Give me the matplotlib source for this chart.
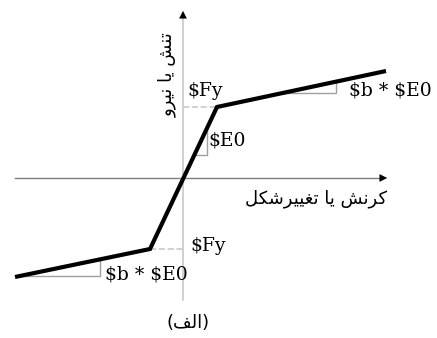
import numpy as np
import matplotlib
matplotlib.use("Agg")
import matplotlib.pyplot as plt

# hysteresis backbone
strain = [-168, -33, 34, 203]
stress = [-99, -71, 71, 107]

y_label = "تنش یا نیرو"
x_label = "کرنش یا تغییرشکل"
caption = "(الف)"

# arabic presentation forms: iso, fin, ini, med
FORMS = {
    'ا': ('\uFE8D', '\uFE8E'),
    'ر': ('\uFEAD', '\uFEAE'),
    'و': ('\uFEED', '\uFEEE'),
    'ت': ('\uFE95', '\uFE96', '\uFE97', '\uFE98'),
    'ن': ('\uFEE5', '\uFEE6', '\uFEE7', '\uFEE8'),
    'ش': ('\uFEB5', '\uFEB6', '\uFEB7', '\uFEB8'),
    'ی': ('\uFBFC', '\uFBFD', '\uFBFE', '\uFBFF'),
    'ک': ('\uFB8E', '\uFB8F', '\uFB90', '\uFB91'),
    'غ': ('\uFECD', '\uFECE', '\uFECF', '\uFED0'),
    'ل': ('\uFEDD', '\uFEDE', '\uFEDF', '\uFEE0'),
    'ف': ('\uFED1', '\uFED2', '\uFED3', '\uFED4'),
}


def shape(s):
    out = []
    for i, c in enumerate(s):
        if c not in FORMS:
            out.append(c)
            continue
        f = FORMS[c]
        prev = s[i - 1] if i > 0 else ''
        nxt = s[i + 1] if i + 1 < len(s) else ''
        jp = prev in FORMS and len(FORMS[prev]) == 4
        jn = len(f) == 4 and nxt in FORMS
        if jp and jn:
            out.append(f[3])
        elif jp:
            out.append(f[1])
        elif jn:
            out.append(f[2])
        else:
            out.append(f[0])
    vis = ''.join(out)[::-1]
    return vis.translate(str.maketrans('()', ')('))


fig = plt.figure(figsize=(4.37, 3.38), dpi=100)
ax = fig.add_axes([0, 0, 1, 1])
ax.set_xlim(-183, 254)
ax.set_ylim(-160, 178)
ax.axis('off')

# axes with arrows
ax.plot([-168, 198], [0, 0], color='#7f7f7f', lw=1)
ax.plot([0, 0], [-122, 162], color='#c8c8c8', lw=1.2)
ax.annotate('', xy=(207, 0), xytext=(195, 0),
            arrowprops=dict(arrowstyle='-|>', color='black', lw=0, mutation_scale=14))
ax.annotate('', xy=(0, 170), xytext=(0, 158),
            arrowprops=dict(arrowstyle='-|>', color='black', lw=0, mutation_scale=14))

# yield dashes
ax.plot([0, strain[2]], [stress[2], stress[2]], color='#c8c8c8', lw=1.2, ls='--')
ax.plot([strain[1], 0], [stress[1], stress[1]], color='#c8c8c8', lw=1.2, ls='--')

# slope triangles
tc = '#a0a0a0'
x1, x2 = 102, 153
y1 = np.interp(x1, strain, stress)
y2 = np.interp(x2, strain, stress)
ax.plot([x1, x2, x2], [y1, y1, y2], color=tc, lw=1)

ye = 23
xe = np.interp(ye, stress, strain)
xe2 = 24
ax.plot([xe, xe2, xe2], [ye, ye, np.interp(xe2, strain, stress)], color=tc, lw=1)

yl = -98
xl = np.interp(yl, stress, strain)
xl2 = -83
ax.plot([xl, xl2, xl2], [yl, yl, np.interp(xl2, strain, stress)], color=tc, lw=1)

ax.plot(strain, stress, color='black', lw=3, solid_capstyle='butt', solid_joinstyle='miter', zorder=5)

lat = dict(family='DejaVu Serif', fontsize=13.5, parse_math=False, va='center', ha='left')
ax.text(4, 87, '$Fy', **lat)
ax.text(25, 37, '$E0', **lat)
ax.text(166, 87, '$b * $E0', **lat)
ax.text(7, -68, '$Fy', **lat)
ax.text(-78, -96, '$b * $E0', **lat)

fa = dict(family='DejaVu Sans', fontsize=13, va='center', ha='center')
ax.text(133, -21, shape(x_label), **fa)
ax.text(-16, 103, shape(y_label), rotation=90, **fa)
ax.text(5, -145, shape(caption), **fa)

fig.savefig('out.png', dpi=100)
